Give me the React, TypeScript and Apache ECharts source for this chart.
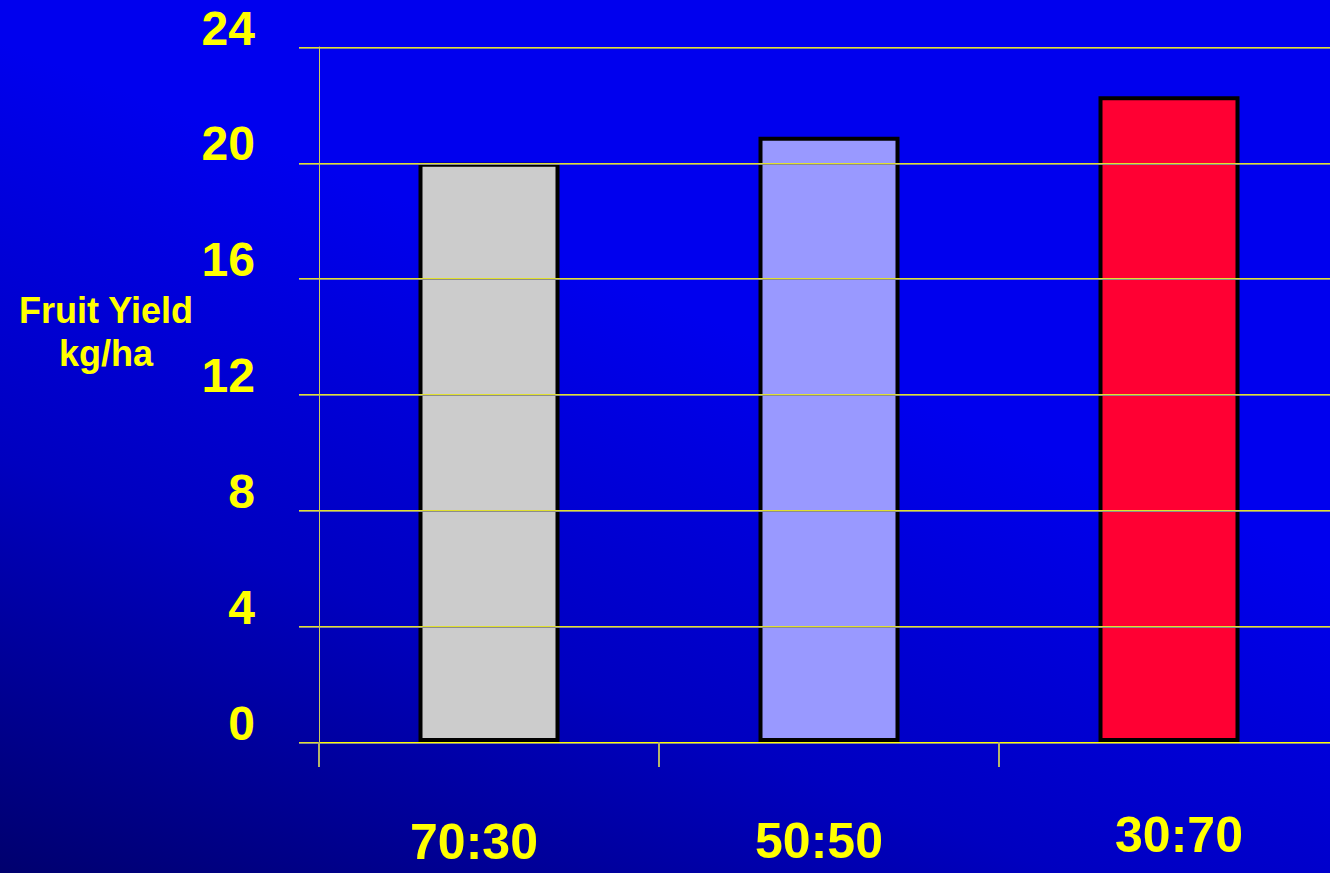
import React, { useEffect, useRef } from "react";
import * as echarts from "echarts";

const categories = ["70:30", "50:50", "30:70"];
const yieldValues = [20.0, 20.9, 22.3];
const yTicks = [0, 4, 8, 12, 16, 20, 24];
const axisTitleLines = ["Fruit Yield", "kg/ha"];

const BAR_COLORS = ["#cccccc", "#9999ff", "#ff0033"];
const FONT = '"Liberation Sans", Arial, Helvetica, sans-serif';
const YELLOW = "#ffff00";
const GRAY = "#8c8c8c";

export default function App() {
  const ref = useRef<HTMLDivElement>(null);

  useEffect(() => {
    document.body.style.margin = "0";
    if (!ref.current) return;
    const chart = echarts.init(ref.current, undefined, { renderer: "svg" });

    const yMin = yTicks[0];
    const yMax = yTicks[yTicks.length - 1];
    const yStep = yTicks[1] - yTicks[0];

    const labelStyle = (lh: number, pad: number[]) => ({
      fontFamily: FONT,
      fontWeight: "bold",
      fontSize: 50,
      lineHeight: lh,
      color: YELLOW,
      padding: pad,
    });

    chart.setOption({
      animation: false,
      backgroundColor: new echarts.graphic.LinearGradient(0, 1, 0.42, 0.3, [
        { offset: 0, color: "#00006e" },
        { offset: 0.5, color: "#0000c0" },
        { offset: 1, color: "#0000ee" },
      ]),
      grid: [
        { left: 319, top: 47, bottom: 131, right: 0, containLabel: false },
        { left: 319, top: 48, bottom: 130, right: 0, containLabel: false },
      ],
      xAxis: [
        {
          type: "category",
          gridIndex: 0,
          data: categories,
          boundaryGap: true,
          z: 5,
          axisLine: { show: true, lineStyle: { color: YELLOW, width: 1 } },
          axisTick: {
            show: true,
            length: 25,
            interval: 0,
            lineStyle: { color: "#b4b46a", width: 2 },
          },
          axisLabel: {
            interval: 0,
            margin: 86,
            verticalAlign: "top",
            formatter: (v: string, i: number) => `{c${i}|${v}}`,
            rich: {
              c0: labelStyle(28, [0, 30, 0, 0]),
              c1: labelStyle(26, [0, 20, 0, 0]),
              c2: labelStyle(14, [0, 0, 0, 20]),
            },
          },
          splitLine: { show: false },
        },
        {
          type: "category",
          gridIndex: 1,
          data: categories,
          show: false,
        },
      ],
      yAxis: [
        {
          type: "value",
          gridIndex: 0,
          min: yMin,
          max: yMax,
          interval: yStep,
          z: 4,
          axisLine: { show: true, lineStyle: { color: "#c8c860", width: 1 } },
          axisTick: { show: true, length: 20, lineStyle: { color: "#e0e030", width: 1 } },
          axisLabel: {
            margin: 64,
            fontFamily: FONT,
            fontWeight: "bold",
            fontSize: 48,
            lineHeight: 38,
            verticalAlign: "bottom",
            color: YELLOW,
          },
          splitLine: { show: true, lineStyle: { color: "#e0e030", width: 1 } },
        },
        {
          type: "value",
          gridIndex: 1,
          min: yMin,
          max: yMax,
          interval: yStep,
          z: 3,
          axisLine: { show: false },
          axisTick: { show: true, length: 20, lineStyle: { color: GRAY, width: 1 } },
          axisLabel: { show: false },
          splitLine: { show: true, lineStyle: { color: GRAY, width: 1 } },
        },
      ],
      graphic: [
        {
          type: "text",
          x: 106,
          y: 332,
          style: {
            text: axisTitleLines.join("\n"),
            fontFamily: FONT,
            fontWeight: "bold",
            fontSize: 36,
            lineHeight: 43,
            fill: YELLOW,
            textAlign: "center",
            textVerticalAlign: "middle",
          },
        },
      ],
      series: [
        {
          type: "bar",
          xAxisIndex: 0,
          yAxisIndex: 0,
          barWidth: 141,
          data: yieldValues.map((v, i) => ({
            value: v,
            itemStyle: { color: BAR_COLORS[i] },
          })),
          itemStyle: { borderColor: "#000000", borderWidth: 4 },
          z: 2,
        },
      ],
    });

    return () => chart.dispose();
  }, []);

  return (
    <div style={{ width: 1330, height: 873, overflow: "hidden" }}>
      <div ref={ref} style={{ width: 1339, height: 873 }} />
    </div>
  );
}
